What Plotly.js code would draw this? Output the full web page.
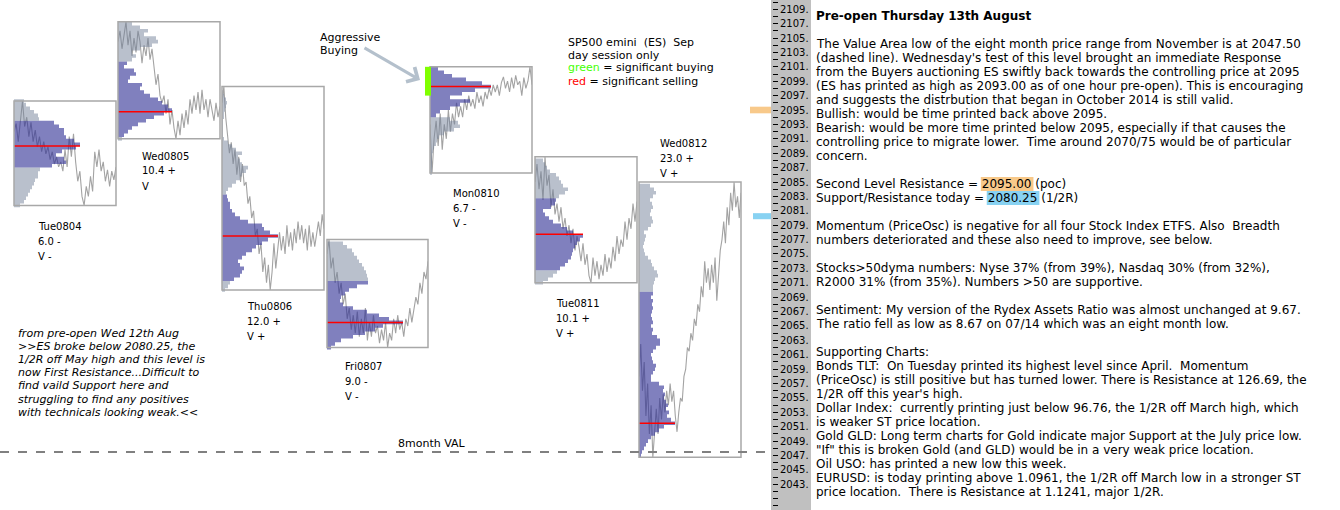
<!DOCTYPE html>
<html><head><meta charset="utf-8">
<script src="https://cdn.plot.ly/plotly-3.0.1.min.js"></script>
<style>html,body{margin:0;padding:0;background:#fff;overflow:hidden}</style>
</head><body>
<div id="chart" style="width:1340px;height:510px"></div>
<script>
// ---------------- DATA ----------------
const dayNames = ['Tue0804', 'Wed0805', 'Thu0806', 'Fri0807', 'Mon0810', 'Tue0811', 'Wed0812'];
const dayRangeText = ['6.0 -', '10.4 +', '12.0 +', '9.0 -', '6.7 -', '10.1 +', '23.0 +'];
const dayVText = ['V -', 'V', 'V +', 'V -', 'V -', 'V +', 'V +'];
const dayHigh = [2096.25, 2107.25, 2098.25, 2077.0, 2101.0, 2088.5, 2085.0];
const dayLow  = [2081.75, 2091.0, 2070.0, 2062.0, 2086.25, 2071.0, 2046.75];
const dayPOC  = [2090.0, 2094.75, 2077.5, 2065.5, 2098.25, 2077.75, 2051.5];
const vaHigh  = [2093.25, 2101.5, 2083.0, 2071.0, 2101.0, 2082.5, 2069.5];
const vaLow   = [2087.0, 2091.5, 2071.5, 2062.0, 2094.25, 2073.0, 2046.75];

// price paths (one per day session)
const price_tue0804 = [2092.0, 2093.1, 2090.6, 2093.6, 2096.25, 2092.7, 2094.0, 2091.3, 2093.3, 2090.6, 2092.2, 2089.9, 2091.3, 2089.2, 2090.6, 2088.9, 2089.9, 2088.1, 2089.2, 2087.5, 2088.5, 2087.1, 2087.8, 2086.5, 2089.5, 2087.1, 2091.3, 2088.5, 2091.7, 2087.8, 2085.1, 2086.5, 2083.0, 2081.75, 2084.4, 2083.0, 2085.8, 2083.7, 2089.2, 2087.1, 2089.5, 2086.5, 2087.8, 2085.1, 2086.7, 2084.4, 2086.5, 2085.3, 2087.1];
const price_wed0805 = [2104.5, 2106.0, 2103.5, 2105.5, 2107.25, 2104.0, 2106.0, 2102.5, 2105.0, 2103.0, 2106.0, 2104.5, 2101.5, 2104.0, 2102.5, 2105.0, 2102.0, 2103.5, 2101.0, 2098.5, 2100.0, 2097.0, 2096.0, 2097.0, 2094.5, 2096.5, 2093.0, 2095.0, 2092.5, 2091.0, 2093.5, 2091.5, 2094.5, 2092.5, 2095.0, 2093.0, 2096.5, 2094.5, 2097.0, 2095.0, 2097.5, 2094.5, 2097.8, 2095.0, 2096.5, 2094.0, 2096.5, 2095.0, 2093.5, 2096.0, 2094.0, 2095.5];
const price_thu0806 = [2096.0, 2098.25, 2094.0, 2091.0, 2089.0, 2090.5, 2087.5, 2089.5, 2086.0, 2088.5, 2085.0, 2087.5, 2084.5, 2085.0, 2082.0, 2083.0, 2080.0, 2081.0, 2077.5, 2078.5, 2075.0, 2076.5, 2072.5, 2074.5, 2071.0, 2073.5, 2070.0, 2072.5, 2076.5, 2073.0, 2075.5, 2078.0, 2075.5, 2077.5, 2075.0, 2079.0, 2076.0, 2078.0, 2075.5, 2078.5, 2076.5, 2079.5, 2077.0, 2079.0, 2076.5, 2078.5, 2075.5, 2079.0, 2076.0, 2078.0, 2076.0, 2077.5, 2079.5, 2077.5, 2080.5, 2078.5];
const price_fri0807 = [2075.0, 2077.0, 2073.0, 2074.5, 2071.0, 2072.5, 2069.5, 2071.0, 2068.0, 2069.5, 2066.0, 2067.5, 2064.5, 2066.5, 2064.0, 2067.0, 2063.5, 2066.0, 2064.0, 2067.5, 2063.0, 2065.5, 2063.5, 2066.5, 2064.0, 2065.0, 2062.6, 2064.5, 2063.0, 2065.5, 2062.0, 2064.0, 2063.0, 2066.0, 2064.0, 2066.5, 2064.5, 2065.5, 2063.5, 2066.0, 2065.0, 2067.5, 2065.5, 2067.0, 2069.0, 2068.0, 2071.0, 2069.5, 2072.5, 2071.5, 2074.0];
const price_mon0810 = [2093.0, 2086.25, 2091.0, 2093.5, 2090.0, 2094.5, 2089.5, 2093.0, 2091.0, 2095.0, 2092.0, 2094.5, 2093.0, 2096.0, 2094.0, 2095.5, 2094.0, 2096.5, 2095.0, 2097.0, 2095.5, 2096.5, 2095.2, 2097.5, 2096.0, 2097.0, 2095.5, 2097.5, 2096.5, 2098.0, 2097.0, 2098.5, 2097.5, 2098.5, 2097.0, 2098.8, 2099.6, 2098.0, 2099.0, 2097.5, 2099.5, 2098.0, 2099.8, 2098.5, 2099.0, 2097.0, 2099.5, 2098.0, 2099.0, 2101.0, 2098.5];
const price_tue0811 = [2085.0, 2087.5, 2084.0, 2086.5, 2082.5, 2088.5, 2084.5, 2086.0, 2081.5, 2084.0, 2080.5, 2082.0, 2079.5, 2081.5, 2078.5, 2080.0, 2077.5, 2079.0, 2076.5, 2078.5, 2075.5, 2077.5, 2076.0, 2074.0, 2076.5, 2073.5, 2075.0, 2072.0, 2071.0, 2074.5, 2072.0, 2074.0, 2071.5, 2073.5, 2072.0, 2075.0, 2072.5, 2074.5, 2073.0, 2076.0, 2074.0, 2077.5, 2075.0, 2077.0, 2076.0, 2079.5, 2077.0, 2080.0, 2078.5, 2082.0, 2079.5, 2082.3];
const price_wed0812 = [2058.0, 2062.5, 2056.0, 2060.0, 2052.5, 2057.0, 2050.0, 2054.0, 2046.75, 2051.0, 2053.5, 2050.0, 2055.0, 2052.0, 2055.5, 2053.0, 2056.0, 2054.0, 2057.0, 2054.5, 2056.0, 2052.5, 2050.3, 2053.0, 2055.0, 2054.5, 2058.0, 2059.0, 2062.0, 2061.5, 2064.0, 2063.0, 2066.0, 2065.0, 2068.0, 2067.0, 2070.5, 2069.0, 2074.0, 2071.0, 2073.0, 2070.0, 2073.5, 2071.0, 2074.5, 2068.5, 2072.5, 2075.5, 2077.0, 2079.5, 2076.5, 2081.5, 2079.0, 2083.5, 2081.0, 2085.0, 2081.5, 2083.0, 2080.0, 2083.5];

// volume profiles: volume at each half-point price level, starting at profileStart
const profileStep = 0.5;
const profileStart = [2081.75, 2091.0, 2070.0, 2062.0, 2086.25, 2071.0, 2047.0];
const vol_tue0804 = [6, 10, 12, 14, 16, 18, 20, 21, 24, 24, 26, 38, 52, 50, 42, 48, 62, 66, 60, 52, 50, 50, 45, 40, 25, 24, 20, 16, 12, 10];
const vol_wed0805 = [4, 6, 10, 14, 20, 28, 36, 46, 54, 50, 44, 40, 32, 26, 22, 24, 10, 12, 18, 16, 6, 9, 14, 18, 14, 22, 34, 40, 38, 26, 30, 22, 14];
const vol_thu0806 = [3, 6, 8, 12, 18, 20, 22, 18, 16, 20, 24, 30, 34, 40, 46, 56, 48, 42, 40, 26, 18, 13, 10, 8, 8, 6, 5, 4, 6, 10, 14, 18, 20, 24, 26, 20, 18, 16, 20, 14, 10, 6, 2, 1, 1, 1, 1, 1, 2, 2, 3, 4, 5, 4, 2, 1];
const vol_fri0807 = [4, 8, 14, 26, 38, 48, 56, 76, 62, 52, 40, 26, 16, 13, 14, 18, 22, 30, 41, 41, 40, 39, 37, 35, 32, 30, 27, 25, 20, 16];
const vol_mon0810 = [2, 2, 2, 2, 2, 2, 3, 4, 6, 7, 9, 14, 24, 30, 28, 20, 6, 10, 20, 30, 40, 20, 32, 45, 61, 52, 36, 22, 14, 8];
const vol_tue0811 = [8, 13, 18, 22, 25, 30, 33, 36, 37, 38, 40, 42, 45, 48, 38, 32, 26, 18, 14, 10, 8, 16, 20, 21, 24, 30, 33, 28, 26, 24, 21, 15, 12, 10, 8];
const vol_wed0812 = [2, 3, 5, 7, 9, 12, 16, 20, 25, 36, 32, 28, 30, 27, 29, 27, 25, 26, 24, 25, 20, 12, 12, 14, 16, 17, 14, 13, 12, 14, 17, 21, 21, 18, 13, 14, 12, 14, 13, 12, 13, 14, 13, 14, 12, 14, 14, 14, 15, 16, 19, 18, 15, 13, 12, 9, 6, 5, 4, 5, 6, 7, 5, 9, 12, 14, 13, 11, 12, 14, 13, 11, 14, 17, 15, 11];

const priceSeries = [price_tue0804, price_wed0805, price_thu0806, price_fri0807, price_mon0810, price_tue0811, price_wed0812];
const volSeries = [vol_tue0804, vol_wed0805, vol_thu0806, vol_fri0807, vol_mon0810, vol_tue0811, vol_wed0812];

const aggressiveBuyZone = [2097.0, 2101.0];   // Mon0810 green marker
const eightMonthVAL = 2047.5;
const secondResistance = 2095.0;
const supportResistance = 2080.25;

const priceTickValues = [2109, 2107, 2105, 2103, 2101, 2099, 2097, 2095, 2093, 2091, 2089, 2087, 2085, 2083, 2081, 2079, 2077, 2075, 2073, 2071, 2069, 2067, 2065, 2063, 2061, 2059, 2057, 2055, 2053, 2051, 2049, 2047, 2045, 2043];
const priceTickLabels = ['2109.', '2107.', '2105.', '2103.', '2101.', '2099.', '2097.', '2095.', '2093.', '2091.', '2089.', '2087.', '2085.', '2083.', '2081.', '2079.', '2077.', '2075.', '2073.', '2071.', '2069.', '2067.', '2065.', '2063.', '2061.', '2059.', '2057.', '2055.', '2053.', '2051.', '2049.', '2047.', '2045.', '2043.'];

const panelTitle = 'Pre-open Thursday 13th August';
const panelLines = [
  'The Value Area low of the eight month price range from November is at 2047.50',
  "(dashed line). Wednesday's test of this level brought an immediate Response",
  'from the Buyers auctioning ES swiftly back towards the controlling price at 2095',
  '(ES has printed as high as 2093.00 as of one hour pre-open). This is encouraging',
  'and suggests the distrbution that began in October 2014 is still valid.',
  'Bullish: would be time printed back above 2095.',
  'Bearish: would be more time printed below 2095, especially if that causes the',
  'controlling price to migrate lower.  Time around 2070/75 would be of particular',
  'concern.',
  '',
  'Second Level Resistance = 2095.00 (poc)',
  'Support/Resistance today = 2080.25 (1/2R)',
  '',
  'Momentum (PriceOsc) is negative for all four Stock Index ETFS. Also  Breadth',
  'numbers deteriorated and these also need to improve, see below.',
  '',
  'Stocks>50dyma numbers: Nyse 37% (from 39%), Nasdaq 30% (from 32%),',
  'R2000 31% (from 35%). Numbers >50 are supportive.',
  '',
  'Sentiment: My version of the Rydex Assets Ratio was almost unchanged at 9.67.',
  'The ratio fell as low as 8.67 on 07/14 which was an eight month low.',
  '',
  'Supporting Charts:',
  'Bonds TLT:  On Tuesday printed its highest level since April.  Momentum',
  '(PriceOsc) is still positive but has turned lower. There is Resistance at 126.69, the',
  "1/2R off this year's high.",
  'Dollar Index:  currently printing just below 96.76, the 1/2R off March high, which',
  'is weaker ST price location.',
  'Gold GLD: Long term charts for Gold indicate major Support at the July price low.',
  '"If" this is broken Gold (and GLD) would be in a very weak price location.',
  'Oil USO: has printed a new low this week.',
  'EURUSD: is today printing above 1.0961, the 1/2R off March low in a stronger ST',
  'price location.  There is Resistance at 1.1241, major 1/2R.'
];
const noteLines = [
  'from pre-open Wed 12th Aug',
  '>>ES broke below 2080.25, the',
  '1/2R off May high and this level is',
  'now First Resistance...Difficult to',
  'find vaild Support here and',
  'struggling to find any positives',
  'with technicals looking weak.<<'
];
const legendLines = [
  'SP500 emini  (ES)  Sep',
  'day session only',
  '<span style="color:#44ff00">green</span> = significant buying',
  '<span style="color:#ff0000">red</span> = significant selling'
];

// ---------------- LAYOUT HELPERS ----------------
const W = 1340, H = 510;
const FONT = 'DejaVu Sans';
const boxLeft  = [14, 118, 222, 327, 430, 535, 639];
const boxRight = [116, 220, 324, 428, 532, 637, 741];
const labelX = [38, 142, 247, 345, 453, 556, 660];
const labelY = [226, 156, 306, 366, 193, 303, 143];
const TX = -2; // annotation inner offset compensation
const px = x => x / W;
const py = y => 1 - y / H;
const esc = s => s.replace(/</g, '&lt;').replace(/>/g, '&gt;');

const purpleFill = 'rgba(50,50,150,0.62)';
const grayFill = 'rgba(115,129,153,0.5)';

const data = [];
const layout = {
  width: W, height: H,
  margin: {l: 0, r: 0, t: 0, b: 0, pad: 0},
  paper_bgcolor: '#ffffff', plot_bgcolor: 'rgba(0,0,0,0)',
  showlegend: false,
  font: {family: FONT, size: 11, color: '#000'},
  yaxis: {
    range: [2039.44, 2110.28], domain: [0, 1], anchor: 'free', position: 772 / W, side: 'right',
    tickmode: 'array', tickvals: priceTickValues, ticktext: priceTickLabels,
    ticks: 'outside', ticklen: 5, tickwidth: 1, tickcolor: '#000',
    tickfont: {family: FONT, size: 10, color: '#000'},
    minor: {tickmode: 'linear', tick0: 2040, dtick: 1, ticks: 'outside', ticklen: 5, tickwidth: 1, tickcolor: '#000'},
    showgrid: false, zeroline: false, showline: false, fixedrange: true
  },
  shapes: [], annotations: []
};

// gray price-scale strip
layout.shapes.push({type: 'rect', xref: 'paper', yref: 'paper', x0: px(771), x1: px(811), y0: 0, y1: 1,
  fillcolor: '#c0c0c0', line: {width: 0}, layer: 'below'});

function profileSegment(levels, vols, keep) {
  const xs = [], ys = [];
  levels.forEach((l, i) => {
    if (!keep(l)) return;
    xs.push(vols[i], vols[i]);
    ys.push(l - profileStep / 2, l + profileStep / 2);
  });
  return {xs, ys};
}

dayNames.forEach((name, d) => {
  const lineAx = 2 + d * 2, profAx = 3 + d * 2;
  const dom = [px(boxLeft[d]), px(boxRight[d])];
  const prices = priceSeries[d];
  const vols = volSeries[d];
  layout['xaxis' + lineAx] = {domain: dom, range: [0, prices.length - 1], anchor: 'y', visible: false, fixedrange: true};
  layout['xaxis' + profAx] = {domain: dom, range: [0, boxRight[d] - boxLeft[d]], anchor: 'y', overlaying: 'x' + lineAx, visible: false, fixedrange: true};

  data.push({type: 'scatter', mode: 'lines', xaxis: 'x' + lineAx, yaxis: 'y',
    x: prices.map((_, i) => i), y: prices, line: {color: '#a3a3a3', width: 1.1}, hoverinfo: 'skip'});

  const levels = vols.map((_, i) => profileStart[d] + i * profileStep);
  const parts = [
    [l => l < vaLow[d], grayFill],
    [l => l >= vaLow[d] && l <= vaHigh[d], purpleFill],
    [l => l > vaHigh[d], grayFill]
  ];
  parts.forEach(([keep, col]) => {
    const seg = profileSegment(levels, vols, keep);
    if (!seg.xs.length) return;
    data.push({type: 'scatter', mode: 'lines', xaxis: 'x' + profAx, yaxis: 'y',
      x: seg.xs, y: seg.ys, fill: 'tozerox', fillcolor: col, line: {width: 0, color: col}, hoverinfo: 'skip'});
  });

  data.push({type: 'scatter', mode: 'lines', xaxis: 'x' + profAx, yaxis: 'y',
    x: [0, Math.max(...vols)], y: [dayPOC[d], dayPOC[d]], line: {color: '#ff0000', width: 1.5}, hoverinfo: 'skip'});

  layout.shapes.push({type: 'rect', xref: 'paper', yref: 'y', x0: dom[0], x1: dom[1], y0: dayLow[d], y1: dayHigh[d],
    line: {color: '#a8a8a8', width: 1.5}, fillcolor: 'rgba(0,0,0,0)', layer: 'above'});

  [name, dayRangeText[d], dayVText[d]].forEach((t, k) => {
    layout.annotations.push({text: t, xref: 'paper', yref: 'paper', x: px(labelX[d] + TX), y: py(labelY[d] + k * 15),
      xanchor: 'left', yanchor: 'middle', showarrow: false, font: {family: FONT, size: 10, color: '#000'}});
  });
});

// aggressive buying marker
layout.shapes.push({type: 'rect', xref: 'paper', yref: 'y', x0: px(425), x1: px(431), y0: aggressiveBuyZone[0], y1: aggressiveBuyZone[1],
  fillcolor: '#80ff00', line: {width: 0}, layer: 'above'});

// 8 month VAL dashed line
layout.shapes.push({type: 'line', xref: 'paper', yref: 'y', x0: 0, x1: px(769), y0: eightMonthVAL, y1: eightMonthVAL,
  line: {color: '#808080', width: 2, dash: 'dash'}, layer: 'above'});
layout.annotations.push({text: '8month VAL', xref: 'paper', yref: 'paper', x: px(398 + TX), y: py(443), xanchor: 'left', yanchor: 'middle',
  showarrow: false, font: {family: FONT, size: 11, color: '#000'}});

// level markers next to price scale
layout.shapes.push({type: 'rect', xref: 'paper', yref: 'y', x0: px(750), x1: px(771), y0: secondResistance - 0.46, y1: secondResistance + 0.46,
  fillcolor: '#f8c98a', line: {width: 0}, layer: 'above'});
layout.shapes.push({type: 'rect', xref: 'paper', yref: 'y', x0: px(753), x1: px(771), y0: supportResistance - 0.42, y1: supportResistance + 0.42,
  fillcolor: '#88d2f2', line: {width: 0}, layer: 'above'});

// right text panel
const PANEL_X = 816, PANEL_SIZE = 12;
layout.annotations.push({text: '<b>' + panelTitle + '</b>', xref: 'paper', yref: 'paper', x: px(PANEL_X + TX), y: py(16),
  xanchor: 'left', yanchor: 'middle', showarrow: false, font: {family: FONT, size: PANEL_SIZE, color: '#000'}});

const ctx = document.createElement('canvas').getContext('2d');
ctx.font = PANEL_SIZE + 'px "' + FONT + '"';
function highlight(lineIdx, token, color) {
  const line = panelLines[lineIdx];
  const pos = line.indexOf(token);
  const x0 = PANEL_X + ctx.measureText(line.slice(0, pos)).width - 1;
  const x1 = PANEL_X + ctx.measureText(line.slice(0, pos + token.length)).width + 2;
  const yc = 44 + lineIdx * 14;
  layout.shapes.push({type: 'rect', xref: 'paper', yref: 'paper', x0: px(x0), x1: px(x1), y0: py(yc + 7), y1: py(yc - 7),
    fillcolor: color, line: {width: 0}, layer: 'below'});
}
highlight(10, '2095.00', '#f8c98a');
highlight(11, '2080.25', '#88d2f2');

panelLines.forEach((t, i) => {
  if (!t) return;
  layout.annotations.push({text: esc(t), xref: 'paper', yref: 'paper', x: px(PANEL_X + TX), y: py(44 + i * 14),
    xanchor: 'left', yanchor: 'middle', showarrow: false, font: {family: FONT, size: PANEL_SIZE, color: '#000'}});
});

// left italic note
noteLines.forEach((t, i) => {
  layout.annotations.push({text: '<i>' + esc(t) + '</i>', xref: 'paper', yref: 'paper', x: px(18 + TX), y: py(333 + i * 13.2),
    xanchor: 'left', yanchor: 'middle', showarrow: false, font: {family: FONT, size: 11, color: '#000'}});
});

// legend text
legendLines.forEach((t, i) => {
  layout.annotations.push({text: t, xref: 'paper', yref: 'paper', x: px(568 + TX), y: py(42 + i * 13),
    xanchor: 'left', yanchor: 'middle', showarrow: false, font: {family: FONT, size: 11, color: '#000'}});
});

// aggressive buying label + arrow
['Aggressive', 'Buying'].forEach((t, i) => {
  layout.annotations.push({text: t, xref: 'paper', yref: 'paper', x: px(320 + TX), y: py(38 + i * 13),
    xanchor: 'left', yanchor: 'middle', showarrow: false, font: {family: FONT, size: 11, color: '#000'}});
});
layout.annotations.push({text: '', xref: 'paper', yref: 'paper', x: px(420), y: py(80), showarrow: true,
  ax: -57, ay: -33, arrowcolor: '#b4c0cc', arrowwidth: 3, arrowhead: 4, arrowsize: 1.1});

Plotly.newPlot('chart', data, layout, {staticPlot: true, displayModeBar: false});
</script>
</body></html>
